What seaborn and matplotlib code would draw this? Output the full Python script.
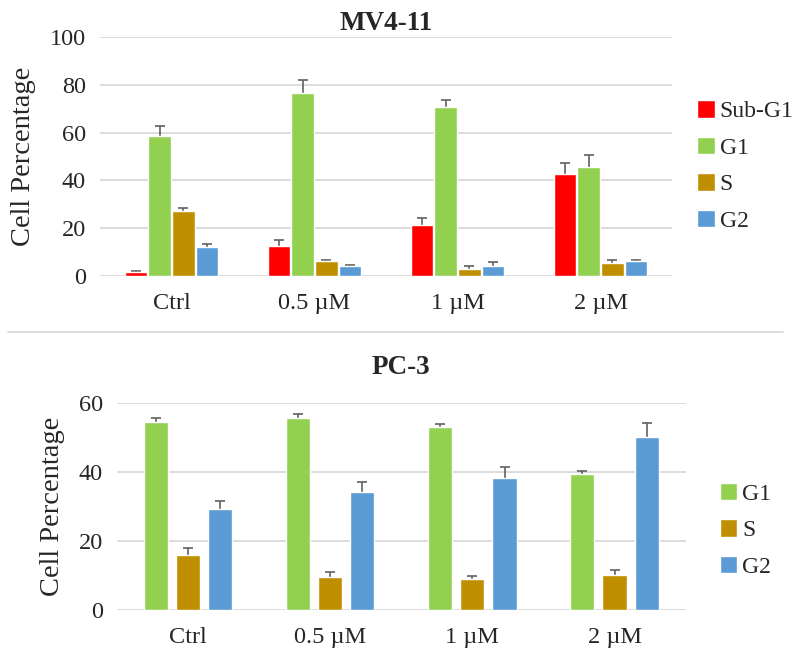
import numpy as np
import pandas as pd
import matplotlib.pyplot as plt
import seaborn as sns
from matplotlib.lines import Line2D

doses = ['Ctrl', '0.5 µM', '1 µM', '2 µM']

# MV4-11 panel
mv4_phases = ['Sub-G1', 'G1', 'S', 'G2']
mv4_subg1 = [1.8, 12.6, 21.3, 42.7]
mv4_subg1_err = [0.4, 2.5, 2.9, 4.6]
mv4_g1 = [58.6, 76.6, 70.6, 45.5]
mv4_g1_err = [4.2, 5.3, 3.0, 4.9]
mv4_s = [27.2, 6.2, 2.9, 5.4]
mv4_s_err = [1.3, 0.5, 1.3, 1.3]
mv4_g2 = [12.1, 4.3, 4.3, 6.2]
mv4_g2_err = [1.3, 0.4, 1.4, 0.3]

# PC-3 panel
pc3_phases = ['G1', 'S', 'G2']
pc3_g1 = [54.7, 55.6, 53.0, 39.5]
pc3_g1_err = [0.9, 1.3, 0.9, 0.9]
pc3_s = [15.9, 9.6, 8.9, 10.2]
pc3_s_err = [2.0, 1.5, 0.9, 1.3]
pc3_g2 = [29.4, 34.2, 38.2, 50.3]
pc3_g2_err = [2.3, 2.9, 3.3, 4.0]

colors = {'Sub-G1': '#FF0000', 'G1': '#92D050', 'S': '#BF8F00', 'G2': '#5B9BD5'}

sns.set_style('white')
plt.rcParams['font.family'] = ['Liberation Serif', 'DejaVu Serif']


def long_df(phases, vals, errs):
    rows = []
    for p, v, e in zip(phases, vals, errs):
        for d, y, err in zip(doses, v, e):
            rows.append({'dose': d, 'phase': p, 'pct': y, 'err': err})
    return pd.DataFrame(rows)


def panel(ax, df, phases, title, width, gap, ymax, yticks, leg_anchor, tpad):
    sns.barplot(data=df, x='dose', y='pct', hue='phase', hue_order=phases,
                order=doses, palette=colors, width=width, gap=gap,
                errorbar=None, saturation=1, ax=ax, zorder=2)
    # symmetric bars drawn behind the columns, so only the upper half shows
    for cont, p in zip(ax.containers, phases):
        sub = df[df.phase == p].set_index('dose').loc[doses]
        xs = [b.get_x() + b.get_width() / 2 for b in cont]
        ax.errorbar(xs, sub.pct, yerr=sub.err,
                    fmt='none', ecolor='#606060', elinewidth=1.2,
                    capsize=3.5, capthick=1.2, zorder=1.5)
    ax.set_ylim(0, ymax)
    ax.set_yticks(yticks)
    ax.set_xlim(-0.5, 3.5)
    ax.grid(axis='y', color='#D9D9D9', lw=1.3, zorder=0)
    ax.set_axisbelow(True)
    sns.despine(ax=ax, left=True, bottom=True)
    ax.tick_params(length=0, labelsize=17.5, pad=10)
    ax.tick_params(axis='x', pad=12)
    ax.set_xlabel('')
    ax.set_ylabel('Cell Percentage', fontsize=20.5, labelpad=10)
    ax.set_title(title, fontsize=19.5, fontweight='bold', pad=tpad)
    ax.legend(loc='center left', bbox_to_anchor=leg_anchor, frameon=False,
              fontsize=17, handlelength=0.75, handleheight=0.75,
              handletextpad=0.2, labelspacing=0.62, borderpad=0,
              borderaxespad=0)


fig = plt.figure(figsize=(8, 6.6), dpi=100)
ax1 = fig.add_axes([0.125, 0.582, 0.715, 0.362])
ax2 = fig.add_axes([0.146, 0.076, 0.711, 0.313])

df1 = long_df(mv4_phases, [mv4_subg1, mv4_g1, mv4_s, mv4_g2],
              [mv4_subg1_err, mv4_g1_err, mv4_s_err, mv4_g2_err])
df2 = long_df(pc3_phases, [pc3_g1, pc3_s, pc3_g2],
              [pc3_g1_err, pc3_s_err, pc3_g2_err])

panel(ax1, df1, mv4_phases, 'MV4-11', 0.66, 0.04, 100, [0, 20, 40, 60, 80, 100],
      (1.044, 0.46), 5)
panel(ax2, df2, pc3_phases, 'PC-3', 0.68, 0.25, 60, [0, 20, 40, 60],
      (1.06, 0.385), 21)

fig.add_artist(Line2D([0.01, 0.979], [1 - 332 / 660, 1 - 332 / 660],
                      color='#D9D9D9', lw=1.3, transform=fig.transFigure))

fig.savefig('out.png', dpi=100, facecolor='white')
